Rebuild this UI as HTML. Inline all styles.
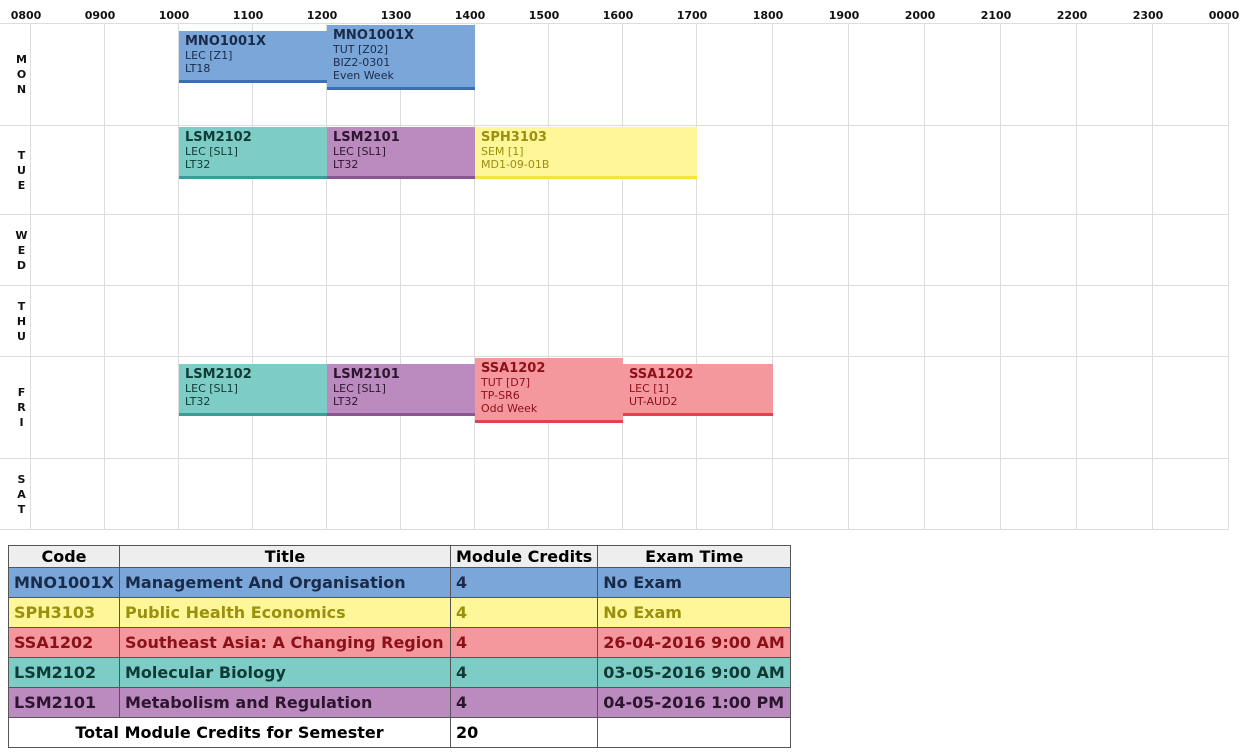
<!DOCTYPE html>
<html><head><meta charset="utf-8">
<style>
body{margin:0;width:1256px;height:756px;background:#fff;font-family:"DejaVu Sans","Liberation Sans",sans-serif;position:relative;overflow:hidden}
.abs{position:absolute}
.hl{position:absolute;top:9px;font-size:11px;font-weight:bold;transform:translateX(-50%);color:#111}
.vl{position:absolute;width:1px;background:#ddd}
.hr{position:absolute;height:1px;background:#ddd;left:0;width:1229px}
.day{position:absolute;left:0;width:43px;text-align:center;font-size:11px;font-weight:bold;line-height:15px;color:#111}
.ev{position:absolute;box-sizing:border-box;padding:4px 0 0 6px;font-size:11px;line-height:13px;border-bottom:3px solid}
.ev b{font-size:13px;display:block;line-height:14px}
table{position:absolute;left:8px;top:545px;border-collapse:collapse;font-size:16px;font-weight:bold}
td,th{border:1px solid #555;padding:0 5px;height:29px;text-align:left;white-space:nowrap}
th{background:#eee;text-align:center;height:21px;color:#000}
</style></head><body>
<div id="grid"></div>
<table>
<tr><th style="width:100px">Code</th><th style="width:320px">Title</th><th style="width:128px">Module Credits</th><th style="width:182px">Exam Time</th></tr>
<tr style="background:#7ba6d9;color:#1a2b4a"><td>MNO1001X</td><td>Management And Organisation</td><td>4</td><td>No Exam</td></tr>
<tr style="background:#fff599;color:#99900e"><td>SPH3103</td><td>Public Health Economics</td><td>4</td><td>No Exam</td></tr>
<tr style="background:#f5989d;color:#8b1019"><td>SSA1202</td><td>Southeast Asia: A Changing Region</td><td>4</td><td>26-04-2016 9:00 AM</td></tr>
<tr style="background:#7dcdc6;color:#0f3a36"><td>LSM2102</td><td>Molecular Biology</td><td>4</td><td>03-05-2016 9:00 AM</td></tr>
<tr style="background:#bb8bbf;color:#2d1530"><td>LSM2101</td><td>Metabolism and Regulation</td><td>4</td><td>04-05-2016 1:00 PM</td></tr>
<tr style="background:#fff;color:#000"><td colspan="2" style="text-align:center">Total Module Credits for Semester</td><td>20</td><td></td></tr>
</table>
<script>
const hourLabels=["0800","0900","1000","1100","1200","1300","1400","1500","1600","1700","1800","1900","2000","2100","2200","2300","0000"];
const dayNames=["MON","TUE","WED","THU","FRI","SAT"];
const dayBounds=[23,125,214,285,356,458,529];
const evDay=[0,0,1,1,1,4,4,4,4];
const evStart=[10,12,10,12,14,10,12,14,16];
const evEnd=[12,14,12,14,17,12,14,16,18];
const evCode=["MNO1001X","MNO1001X","LSM2102","LSM2101","SPH3103","LSM2102","LSM2101","SSA1202","SSA1202"];
const evLines=[["LEC [Z1]","LT18"],["TUT [Z02]","BIZ2-0301","Even Week"],["LEC [SL1]","LT32"],["LEC [SL1]","LT32"],["SEM [1]","MD1-09-01B"],["LEC [SL1]","LT32"],["LEC [SL1]","LT32"],["TUT [D7]","TP-SR6","Odd Week"],["LEC [1]","UT-AUD2"]];
const styles={MNO1001X:["#7ba6d9","#3a6fb3","#1a2b4a"],LSM2102:["#7dcdc6","#3a9e96","#0f3a36"],LSM2101:["#bb8bbf","#8a5592","#2d1530"],SPH3103:["#fff599","#f5e43b","#99900e"],SSA1202:["#f5989d","#e0434b","#8b1019"]};
function xh(h){return h<=17?30+74*(h-8):696+76*(h-17);}
const g=document.getElementById('grid');
hourLabels.forEach((t,i)=>{
  const l=document.createElement('div');l.className='hl';l.style.left=(xh(8+i)-4)+'px';l.textContent=t;
  
  
  g.appendChild(l);
  const v=document.createElement('div');v.className='vl';v.style.left=xh(8+i)+'px';v.style.top='23px';v.style.height='507px';
  
  
  g.appendChild(v);
});
dayBounds.forEach(y=>{
  const h=document.createElement('div');h.className='hr';h.style.top=y+'px';
  
  
  g.appendChild(h);
});
dayNames.forEach((d,i)=>{
  const el=document.createElement('div');el.className='day';
  const mid=(dayBounds[i]+dayBounds[i+1])/2;
  el.style.top=(mid-22)+'px';el.innerHTML=d.split('').join('<br>');
  
  
  g.appendChild(el);
});
evCode.forEach((c,i)=>{
  const d=evDay[i];
  const tall=evLines.some((l,j)=>evDay[j]===d&&l.length>2);
  const me=evLines[i].length>2;
  const top=dayBounds[d]+(me||!tall?2:8);
  const h=me?65:52;
  const s=styles[c];
  const el=document.createElement('div');el.className='ev';
  el.style.left=(xh(evStart[i])+1)+'px';el.style.width=(xh(evEnd[i])-xh(evStart[i]))+'px';
  el.style.top=top+'px';el.style.height=h+'px';
  el.style.background=s[0];el.style.borderBottomColor=s[1];el.style.color=s[2];
  el.innerHTML='<b>'+c+'</b>'+evLines[i].join('<br>');
  
  
  g.appendChild(el);
});
</script>
</body></html>
